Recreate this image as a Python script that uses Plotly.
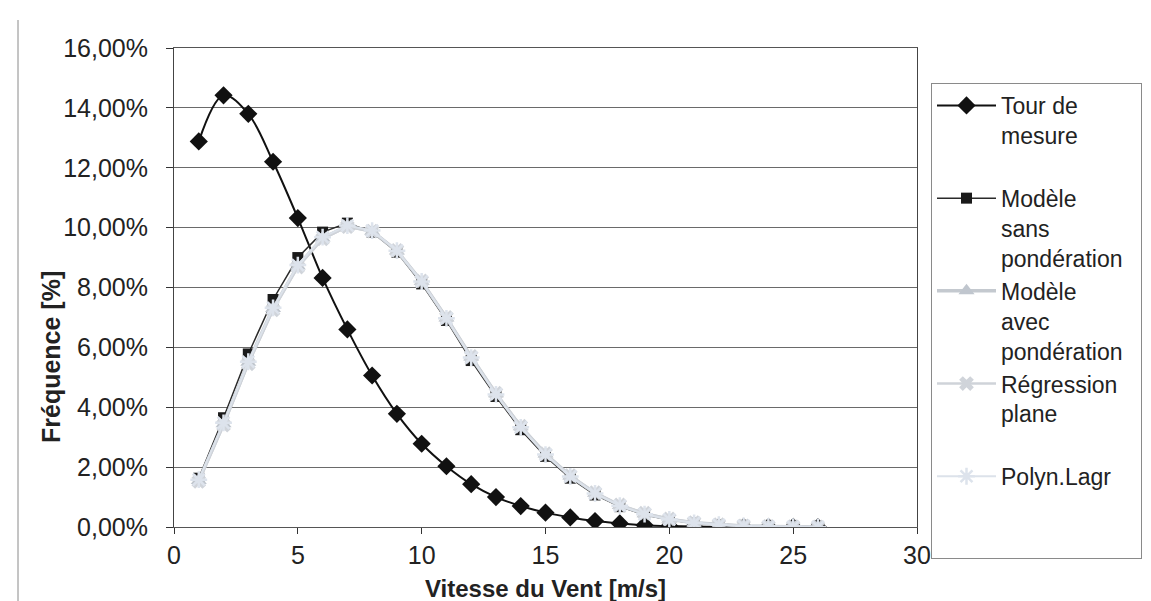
import plotly.graph_objects as go

# ---------------- data ----------------
wind_speed = list(range(1, 27))

tour_mesure = [12.88, 14.42, 13.80, 12.20, 10.32, 8.32, 6.60, 5.06, 3.78, 2.78,
               2.03, 1.43, 1.00, 0.70, 0.48, 0.32, 0.20, 0.12, 0.06, 0.03,
               0.015, 0.008, 0.004, 0.002, 0.001, 0.0]
modele_sans = [1.63, 3.65, 5.78, 7.60, 9.00, 9.85, 10.15, 9.85, 9.18, 8.12,
               6.90, 5.56, 4.36, 3.25, 2.36, 1.63, 1.07, 0.68, 0.41, 0.23,
               0.13, 0.07, 0.035, 0.017, 0.008, 0.004]
modele_avec = [1.55, 3.45, 5.50, 7.30, 8.72, 9.65, 10.05, 9.88, 9.22, 8.20,
               6.98, 5.68, 4.45, 3.35, 2.44, 1.70, 1.13, 0.72, 0.44, 0.26,
               0.14, 0.075, 0.037, 0.018, 0.008, 0.004]
regression_plane = [1.52, 3.40, 5.45, 7.25, 8.68, 9.62, 10.03, 9.88, 9.24, 8.22,
                    7.00, 5.70, 4.47, 3.37, 2.45, 1.72, 1.15, 0.74, 0.46, 0.27,
                    0.15, 0.08, 0.04, 0.02, 0.009, 0.004]
polyn_lagr = [1.58, 3.48, 5.52, 7.32, 8.75, 9.68, 10.07, 9.90, 9.23, 8.20,
              6.97, 5.66, 4.43, 3.33, 2.42, 1.69, 1.12, 0.71, 0.43, 0.25,
              0.14, 0.075, 0.037, 0.018, 0.008, 0.004]

NB = "\u00a0"
series_names = ["Tour de<br>mesure<br> ",
                "Modèle<br>sans<br>pondération" + NB * 2,
                "Modèle<br>avec<br>pondération" + NB * 2,
                "Régression<br>plane<br> ",
                "Polyn.Lagr<br> <br> "]

y_tick_vals = [0, 2, 4, 6, 8, 10, 12, 14, 16]
y_tick_labels = ["0,00%", "2,00%", "4,00%", "6,00%", "8,00%",
                 "10,00%", "12,00%", "14,00%", "16,00%"]
x_tick_vals = [0, 5, 10, 15, 20, 25, 30]

# ---------------- layout geometry ----------------
W, H = 1151, 601
L, R, T, B = 166, 909, 40, 519
PW, PH = R - L, B - T


def px(x):
    return (x - L) / PW


def py(y):
    return (B - y) / PH


FONT = "Liberation Sans, Arial, sans-serif"

fig = go.Figure()

fig.add_trace(go.Scatter(
    x=wind_speed, y=tour_mesure, name=series_names[0], mode="lines+markers",
    line=dict(color="#111111", width=2, shape="spline"),
    marker=dict(symbol="diamond", size=14, color="#111111")))

fig.add_trace(go.Scatter(
    x=wind_speed, y=modele_sans, name=series_names[1], mode="lines+markers",
    line=dict(color="#2a2a2a", width=1.5),
    marker=dict(symbol="square", size=11, color="#1a1a1a")))

fig.add_trace(go.Scatter(
    x=wind_speed, y=modele_avec, name=series_names[2], mode="lines+markers",
    line=dict(color="#c4c9cf", width=3.5),
    marker=dict(symbol="triangle-up", size=14, color="#c0c6ce")))

fig.add_trace(go.Scatter(
    x=wind_speed, y=regression_plane, name=series_names[3], mode="lines+markers",
    line=dict(color="#cfd3d9", width=2.5),
    marker=dict(symbol="x", size=13, color="#d0d4da")))

fig.add_trace(go.Scatter(
    x=wind_speed, y=polyn_lagr, name=series_names[4], mode="lines+markers",
    line=dict(color="#dce2ea", width=2),
    marker=dict(symbol="asterisk-open", size=14, color="#dde3ec",
                line=dict(color="#dde3ec", width=2.5))))

fig.update_layout(
    width=W, height=H,
    margin=dict(l=L, r=W - R, t=T, b=H - B, autoexpand=False),
    paper_bgcolor="white", plot_bgcolor="white",
    font=dict(family=FONT, size=24, color="#222222"),
    showlegend=True,
    legend=dict(
        x=px(923), y=py(75), xanchor="left", yanchor="top",
        bordercolor="#8a8a8a", borderwidth=1, bgcolor="white",
        font=dict(family=FONT, size=23, color="#222222"),
        valign="top", itemwidth=59, tracegroupgap=0,
        traceorder="normal"),
    xaxis=dict(
        range=[0, 30], tickvals=x_tick_vals, ticks="outside", ticklen=6,
        tickcolor="#333333", showgrid=False, zeroline=False,
        showline=True, linecolor="#555555", linewidth=1, mirror=True,
        tickfont=dict(family=FONT, size=25, color="#222222")),
    yaxis=dict(
        range=[0, 16], tickvals=y_tick_vals, ticktext=y_tick_labels,
        ticks="outside", ticklen=7, tickcolor="#333333",
        showgrid=True, gridcolor="#6a6a6a", gridwidth=1, zeroline=False,
        showline=True, linecolor="#444444", linewidth=1, mirror=True,
        ticklabelstandoff=13,
        tickfont=dict(family=FONT, size=25, color="#222222")),
    annotations=[
        dict(text="<b>Vitesse du Vent [m/s]</b>", xref="paper", yref="paper",
             x=px(537), y=py(580), xanchor="center", yanchor="middle",
             showarrow=False, font=dict(family=FONT, size=24, color="#222222")),
        dict(text="<b>Fréquence [%]</b>", xref="paper", yref="paper",
             x=px(43), y=py(349), xanchor="center", yanchor="middle",
             textangle=-90, showarrow=False,
             font=dict(family=FONT, size=25, color="#222222")),
    ],
    shapes=[
        dict(type="line", xref="paper", yref="paper",
             x0=px(10), x1=px(10), y0=py(12), y1=py(601),
             line=dict(color="#8a8a8a", width=1)),
    ],
)

fig.write_html("out.html")
